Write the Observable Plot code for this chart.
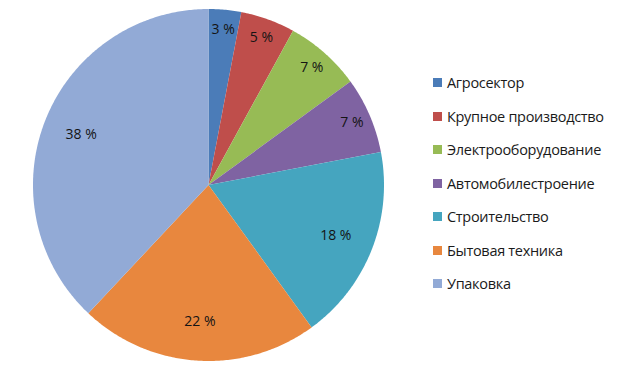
<!DOCTYPE html>
<html>
<head>
<meta charset="utf-8">
<script src="https://cdn.jsdelivr.net/npm/d3@7"></script>
<script src="https://cdn.jsdelivr.net/npm/@observablehq/plot@0.6"></script>
<style>
  html, body { margin: 0; padding: 0; background: #fff; }
  #wrap { position: relative; width: 631px; height: 368px; }
  #legend { position: absolute; left: 433px; top: 66px; font-family: "Open Sans", sans-serif; font-size: 14.5px; color: #1a1a1a; }
  .row { display: flex; align-items: center; height: 33.5px; white-space: nowrap; letter-spacing: -0.3px; }
  .sw { width: 9px; height: 9px; margin-right: 5px; flex: none; }
</style>
</head>
<body>
<div id="wrap"></div>
<script>
const categories = ["Агросектор", "Крупное производство", "Электрооборудование", "Автомобилестроение", "Строительство", "Бытовая техника", "Упаковка"];
const values = [3, 5, 7, 7, 18, 22, 38];
const colors = ["#4b7cb8", "#bf4e4b", "#97bb55", "#7f63a2", "#45a5bf", "#e8873e", "#92aad6"];

const total = d3.sum(values);
const arcs = d3.pie().sort(null).value(d => d)(values);

// slice outlines in unit coordinates (angle 0 at top, clockwise)
const pts = [];
arcs.forEach((a, i) => {
  const cat = categories[i];
  pts.push({cat, x: 0, y: 0});
  const n = Math.max(2, Math.ceil((a.endAngle - a.startAngle) / 0.01));
  for (let k = 0; k <= n; k++) {
    const t = a.startAngle + (a.endAngle - a.startAngle) * k / n;
    pts.push({cat, x: Math.sin(t), y: Math.cos(t)});
  }
  pts.push({cat, x: 0, y: 0});
});

const labels = arcs.map((a, i) => {
  const m = (a.startAngle + a.endAngle) / 2;
  const r = values[i] / total < 0.1 ? 0.89 : 0.78;
  return {x: r * Math.sin(m), y: r * Math.cos(m), text: values[i] + " %"};
});

const chart = Plot.plot({
  width: 631,
  height: 368,
  margin: 0,
  x: {domain: [-1, 1], range: [32.5, 383.5], axis: null},
  y: {domain: [-1, 1], range: [360.5, 8.5], axis: null},
  color: {domain: categories, range: colors},
  style: {fontFamily: "Open Sans, sans-serif", background: "white"},
  marks: [
    Plot.line(pts, {x: "x", y: "y", z: "cat", fill: "cat", stroke: "none", curve: "linear"}),
    Plot.text(labels, {x: "x", y: "y", text: "text", fontSize: 14, fill: "#141414", letterSpacing: "-0.6px"})
  ]
});
const wrap = document.getElementById("wrap");
wrap.appendChild(chart);

const legend = document.createElement("div");
legend.id = "legend";
categories.forEach((c, i) => {
  const row = document.createElement("div");
  row.className = "row";
  const sw = document.createElement("span");
  sw.className = "sw";
  sw.style.background = colors[i];
  const t = document.createElement("span");
  t.textContent = c;
  row.appendChild(sw);
  row.appendChild(t);
  legend.appendChild(row);
});
wrap.appendChild(legend);
</script>
</body>
</html>
